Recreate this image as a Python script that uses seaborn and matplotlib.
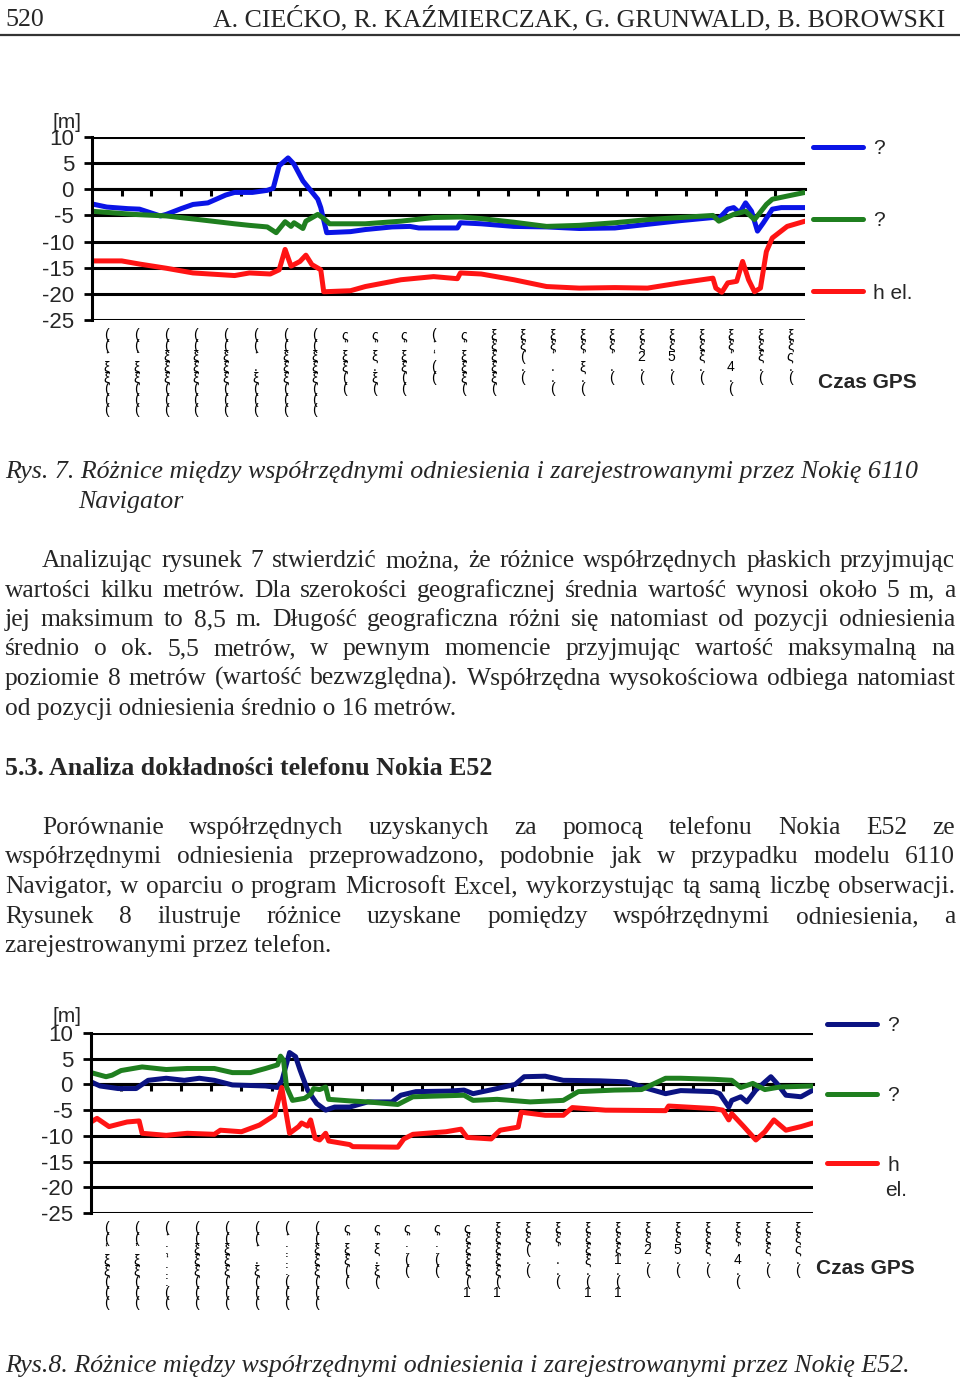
import matplotlib
matplotlib.use("Agg")
import numpy as np
import seaborn as sns
import matplotlib.pyplot as plt
from matplotlib.lines import Line2D

# ---- values (t = time sample, 10 samples per GPS-time label)
# Rys. 7 - Nokia 6110 Navigator
t_lat7 = [0, 5, 12, 16, 23, 25, 30, 34, 39, 41, 45, 48, 54, 59, 61, 63, 66, 68, 71, 73,
          76, 77, 79, 87, 92, 101, 107, 110, 123, 124, 131, 142, 153, 164, 176, 187, 198, 209, 211, 214,
          216, 218, 220, 222, 224, 226, 229, 232, 240]
lat7 = [-2.8, -3.4, -3.7, -3.8, -5.1, -4.8, -3.7, -2.9, -2.6, -2.1, -1.1, -0.6, -0.6, -0.2, 0.2, 4.5, 6.0, 4.8, 1.6, 0.2,
        -1.9, -3.5, -8.3, -8.1, -7.7, -7.2, -7.1, -7.4, -7.4, -6.4, -6.6, -7.1, -7.2, -7.5, -7.4, -6.7, -6.0, -5.4, -5.6, -3.8,
        -3.5, -4.5, -2.6, -4.2, -8.0, -6.4, -3.8, -3.5, -3.5]
t_lon7 = [0, 14, 25, 36, 48, 53, 59, 62, 65, 67, 68, 71, 72, 76, 78, 80, 92, 104, 115, 124,
          131, 142, 153, 164, 176, 187, 198, 209, 211, 214, 216, 220, 223, 227, 229, 234, 240]
lon7 = [-4.2, -4.8, -5.1, -5.8, -6.6, -6.9, -7.2, -8.3, -6.2, -7.1, -6.4, -7.5, -6.1, -4.8, -5.6, -6.6, -6.6, -6.1, -5.4, -5.3,
        -5.6, -6.3, -7.1, -6.9, -6.4, -5.8, -5.4, -5.0, -6.1, -5.3, -4.8, -4.2, -5.8, -2.9, -1.9, -1.3, -0.6]
t_h7 = [0, 10, 16, 25, 34, 48, 53, 60, 63, 65, 66, 67, 70, 72, 74, 77, 78, 87, 92, 104,
        115, 123, 124, 131, 142, 153, 164, 176, 187, 198, 209, 210, 212, 214, 217, 219, 221, 223, 225, 227,
        229, 234, 240]
h7 = [-13.7, -13.7, -14.3, -15.1, -16.0, -16.5, -16.0, -16.2, -15.4, -11.5, -13.1, -14.7, -13.8, -12.6, -14.4, -15.4, -19.6, -19.4, -18.6, -17.3,
      -16.7, -17.1, -16.0, -16.2, -17.3, -18.6, -18.9, -18.8, -18.9, -17.9, -17.0, -18.9, -19.7, -17.9, -17.6, -13.8, -17.3, -19.6, -18.9, -11.9,
      -9.3, -7.1, -6.1]

# Rys. 8 - Nokia E52
t_lat8 = [0, 3, 9, 15, 19, 25, 31, 36, 41, 47, 58, 62, 63.5, 66, 68, 69.5, 72, 75, 78, 81,
          86, 92, 100, 103, 108, 119, 124, 127, 135, 141, 144, 151, 157, 169, 178, 185, 191, 196, 207, 209,
          212, 213, 216, 218, 221, 226, 228, 231, 236, 240]
lat8 = [0.5, -0.3, -0.8, -0.8, 0.8, 1.2, 0.8, 1.2, 0.8, -0.1, -0.3, -0.6, 0.8, 6.2, 5.4, 2.8, -1.1, -3.7, -5.0, -4.4,
        -4.4, -3.4, -3.4, -2.1, -1.4, -1.3, -1.1, -1.8, -0.8, 0.0, 1.5, 1.6, 0.8, 0.7, 0.5, -0.8, -1.8, -1.2, -1.4, -1.8,
        -4.4, -3.1, -2.4, -3.4, -1.1, 1.5, 0.2, -2.1, -2.4, -1.1]
t_lon8 = [0, 5, 7, 10, 17, 25, 32, 41, 47, 53, 58, 62, 63, 64, 65, 67, 71, 73, 74, 76,
          78, 79, 86, 92, 102, 107, 124, 127, 135, 146, 157, 162, 174, 183, 191, 196, 207, 213, 216, 220,
          224, 229, 240]
lon8 = [2.3, 1.5, 1.8, 2.7, 3.4, 2.9, 3.1, 3.1, 2.3, 2.3, 3.1, 3.8, 5.5, 4.7, -0.5, -3.1, -2.7, -1.9, -0.8, -1.0,
        -0.5, -2.9, -3.2, -3.4, -3.9, -2.4, -2.1, -3.1, -2.9, -3.4, -3.1, -1.4, -1.1, -1.0, 1.2, 1.2, 1.0, 0.8, -0.6, 0.2,
        -1.0, -0.5, -0.3]
t_h8 = [0, 2, 6, 12, 16, 17, 25, 32, 41, 43, 50, 56, 61, 63.4, 64.5, 66, 69, 70, 72, 73,
        74.5, 76, 78, 79, 86, 87, 102, 104, 107, 118, 123, 125, 133, 136, 142, 143, 151, 157, 160, 171,
        191, 192, 207, 210, 212, 213, 217, 221, 224, 227, 231, 236, 240]
h8 = [-7.3, -6.6, -8.2, -7.3, -7.1, -9.5, -9.9, -9.5, -9.7, -8.9, -9.2, -7.9, -6.0, -0.6, -4.4, -9.5, -8.2, -7.5, -8.1, -6.9,
      -10.5, -10.8, -9.5, -11.0, -11.7, -12.1, -12.2, -10.6, -9.7, -9.2, -8.7, -10.3, -10.6, -8.9, -8.3, -5.4, -6.0, -6.0, -4.5, -5.0,
      -5.1, -4.2, -4.7, -5.0, -6.9, -5.7, -8.2, -10.8, -9.2, -6.9, -8.9, -8.2, -7.5]

# GPS-time tick labels (printed as missing glyphs in the source)
time_labels7 = ["((ʻξξ(((", "((ʼξξ(((", "((ξξξ(((", "((ξξξ(((", "((ξξξ(((", "((ʻ.ξ(((", "((ξξξ(((", "((ξξξ(((",
                "ςʻξξ((", "ςʻξ.ξ(", "ςʻξξ((", "(ʻʻ((", "ςʻξξξ(", "ξξξξξ(", "ξξ(.(", "ξξʻ..(",
                "ξξʻξ.(", "ξξʻ.(", "ξξ2.(", "ξξ5.(", "ξξξ.(", "ξξʻ4.(", "ξξξ.(", "ξξς.("]
time_labels8 = ["((ʻξξ(((", "((ʼξξ(((", "(ʻ:ʻ::((", "((ξξξ(((", "((ξξξ(((", "((ʻ.ξ(((", "(ʻ:::(((", "((ξξξ(((",
                "ςʻξξ((", "ςʻξ.ξ(", "ςʻ:((", "ςʻ:((", "ςξξξξ(1", "ξξξξξ(1", "ξξ(.(", "ξξʻ..(",
                "ξξξξ.(1", "ξξξ1.(1", "ξξ2.(", "ξξ5.(", "ξξξ.(", "ξξʻ4.(", "ξξξ.(", "ξξς.("]
legend7 = ["?", "?", "h el."]
legend8 = ["?", "?", "h"]

# ---- page text
header_left = "520"
header_right = "A. CIEĆKO, R. KAŹMIERCZAK, G. GRUNWALD, B. BOROWSKI"
caption7 = ["Rys. 7. Różnice między współrzędnymi odniesienia i zarejestrowanymi przez Nokię 6110",
            "Navigator"]
para1 = ["Analizując rysunek 7 stwierdzić można, że różnice współrzędnych płaskich przyjmując",
         "wartości kilku metrów. Dla szerokości geograficznej średnia wartość wynosi około 5 m, a",
         "jej maksimum to 8,5 m. Długość geograficzna różni się natomiast od pozycji odniesienia",
         "średnio o ok. 5,5 metrów, w pewnym momencie przyjmując wartość maksymalną na",
         "poziomie 8 metrów (wartość bezwzględna). Współrzędna wysokościowa odbiega natomiast",
         "od pozycji odniesienia średnio o 16 metrów."]
heading = "5.3. Analiza dokładności telefonu Nokia E52"
para2 = ["Porównanie współrzędnych uzyskanych za pomocą telefonu Nokia E52 ze",
         "współrzędnymi odniesienia przeprowadzono, podobnie jak w przypadku modelu 6110",
         "Navigator, w oparciu o program Microsoft Excel, wykorzystując tą samą liczbę obserwacji.",
         "Rysunek 8 ilustruje różnice uzyskane pomiędzy współrzędnymi odniesienia, a",
         "zarejestrowanymi przez telefon."]
caption8 = "Rys.8. Różnice między współrzędnymi odniesienia i zarejestrowanymi przez Nokię E52."

sns.set_theme(style="white")
plt.rcParams["font.family"] = ["Liberation Sans", "DejaVu Sans"]

W, H = 960, 1381
fig = plt.figure(figsize=(9.6, 13.81), dpi=100)
fig.patch.set_facecolor("white")


def fx(px):
    return px / W


def fy(py):
    return 1 - py / H


SERIF = ["Liberation Serif", "DejaVu Serif"]


def chart(left, right, top, bottom, series, colors, names, ticklabels, leg_anchor, leg_spacing):
    ax = fig.add_axes([fx(left), fy(bottom), fx(right) - fx(left), (bottom - top) / H])
    for (t, v), c, name in zip(series, colors, names):
        sns.lineplot(x=t, y=v, color=c, lw=3.6, ax=ax, estimator=None, sort=False,
                     label=name, solid_capstyle="round", solid_joinstyle="round")
    n = len(ticklabels)
    ax.set_xlim(0, 10 * n)
    ax.set_ylim(-25, 10)
    ax.set_yticks(np.arange(-25, 11, 5))
    ax.set_yticklabels([str(v) for v in np.arange(-25, 11, 5)], fontsize=16)
    ax.yaxis.grid(True, color="black", lw=2.2)
    ax.set_axisbelow(True)
    for s in ["top", "right", "bottom"]:
        ax.spines[s].set_visible(False)
    ax.spines["left"].set_color("black")
    ax.spines["left"].set_linewidth(2.2)
    ax.tick_params(axis="y", direction="out", length=6, width=2, color="black", pad=7, left=True)
    # category labels under the plot
    ax.set_xticks(np.arange(5, 10 * n, 10))
    ax.set_xticklabels(["\n".join(s) for s in ticklabels], fontsize=10, linespacing=0.7,
                       va="top", color="black")
    ax.tick_params(axis="x", length=0, pad=6)
    # category boundaries marked on the zero line
    sec = ax.secondary_xaxis(25 / 35)
    sec.set_alignment("bottom")
    sec.set_xticks(np.arange(10, 10 * n, 10))
    sec.tick_params(axis="x", direction="out", length=5, width=2.2, color="black", labelbottom=False)
    sec.spines["bottom"].set_linewidth(2.2)
    sec.spines["bottom"].set_color("black")
    ax.set_xlabel("")
    ax.set_ylabel("")
    h, l = ax.get_legend_handles_labels()
    ax.legend(h, l, loc="upper left", bbox_to_anchor=leg_anchor, frameon=False, fontsize=15,
              handlelength=2.4, handletextpad=0.5, labelspacing=leg_spacing,
              borderpad=0, borderaxespad=0)
    return ax


# ---- header
fig.text(fx(5), fy(26), header_left, fontsize=18.6, family=SERIF, va="baseline")
fig.text(fx(945), fy(26), header_right, fontsize=18.6, family=SERIF, va="baseline", ha="right")
fig.add_artist(Line2D([0, 1], [fy(35), fy(35)], transform=fig.transFigure, color="#333333", lw=1.6))

# ---- Rys. 7
chart(92, 805, 137, 320,
      [(t_lat7, lat7), (t_lon7, lon7), (t_h7, h7)],
      ["#0a14e6", "#1f7f1f", "#ff1414"], legend7, time_labels7,
      ((813 - 92) / 713, (320 - 139) / 183), 2.56)
fig.text(fx(52), fy(122), "[m]", fontsize=15, va="center")
fig.text(fx(818), fy(383), "Czas GPS", fontsize=15, fontweight="bold", va="center")

# ---- Rys. 8
chart(91, 813, 1033, 1213,
      [(t_lat8, lat8), (t_lon8, lon8), (t_h8, h8)],
      ["#0b1382", "#1f7f1f", "#ff1414"], legend8, time_labels8,
      ((827 - 91) / 722, (1213 - 1016) / 180), 2.44)
fig.text(fx(885), fy(1190), "el.", fontsize=15, va="center")
fig.text(fx(52), fy(1017), "[m]", fontsize=15, va="center")
fig.text(fx(816), fy(1268), "Czas GPS", fontsize=15, fontweight="bold", va="center")

# ---- body text
renderer = fig.canvas.get_renderer()
BODY = 18.4


def put_line(text, x0, base, x1=None, **kw):
    kw.setdefault("family", SERIF)
    kw.setdefault("fontsize", BODY)
    if x1 is None:
        fig.text(fx(x0), fy(base), text, va="baseline", **kw)
        return
    words = text.split()
    arts = [fig.text(0, fy(base), w, va="baseline", **kw) for w in words]
    widths = [a.get_window_extent(renderer).width for a in arts]
    gap = max((x1 - x0 - sum(widths)) / (len(words) - 1), 2.0)
    x = x0
    for a, w in zip(arts, widths):
        a.set_x(fx(x))
        x += w + gap


put_line(caption7[0], 5, 478, style="italic", fontsize=18.6)
put_line(caption7[1], 78, 508, style="italic", fontsize=18.6)

base1 = [567, 597, 626, 655, 685, 715]
for i, line in enumerate(para1):
    x0 = 42 if i == 0 else 5
    put_line(line, x0, base1[i], None if i == len(para1) - 1 else 955)

put_line(heading, 5, 775, fontweight="bold", fontsize=18.6)

base2 = [834, 863, 893, 923, 952]
for i, line in enumerate(para2):
    x0 = 42 if i == 0 else 5
    put_line(line, x0, base2[i], None if i == len(para2) - 1 else 955)

put_line(caption8, 5, 1372, style="italic", fontsize=18.6)

fig.savefig("out.png", dpi=100, facecolor="white")
